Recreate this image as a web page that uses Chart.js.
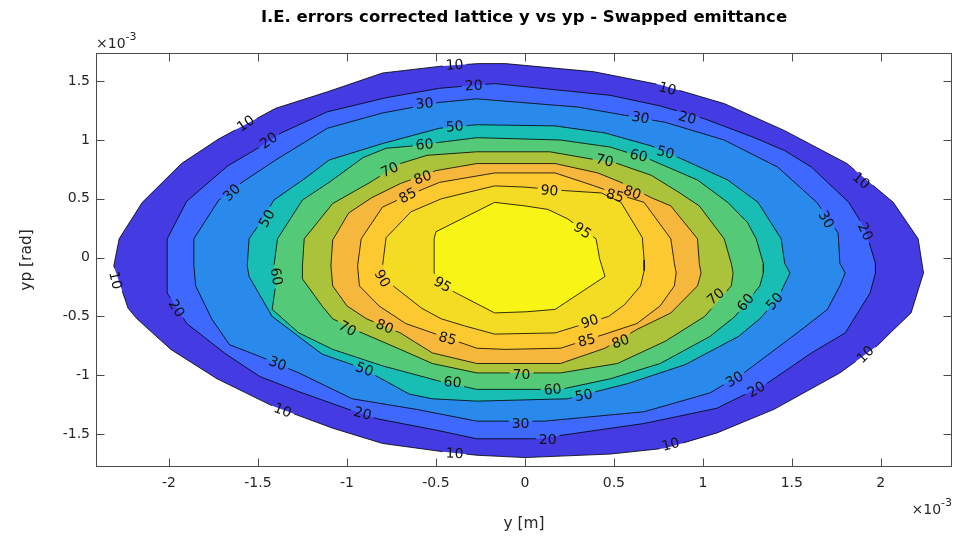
<!DOCTYPE html>
<html>
<head>
<meta charset="utf-8">
<script src="https://cdn.jsdelivr.net/npm/chart.js@4/dist/chart.umd.min.js"></script>
<style>
html,body{margin:0;padding:0;background:#fff}
canvas{display:block}
</style>
</head>
<body>
<canvas id="c" width="958" height="536"></canvas>
<script>
// Contour levels (transmission %), outermost first
const levels = [10, 20, 30, 50, 60, 70, 80, 85, 90, 95];

// Closed contour outlines, y in 1e-3 m, yp in 1e-3 rad
const c10 = [[-2.31,-0.07],[-2.28,0.16],[-2.15,0.47],[-1.93,0.80],[-1.72,1.01],[-1.40,1.27],[-1.11,1.41],[-0.80,1.57],[-0.46,1.63],[-0.26,1.65],[-0.11,1.65],[0.39,1.58],[0.76,1.47],[1.12,1.31],[1.46,1.08],[1.81,0.80],[2.07,0.47],[2.21,0.16],[2.24,-0.13],[2.17,-0.47],[2.06,-0.63],[1.98,-0.75],[1.77,-0.98],[1.40,-1.29],[1.08,-1.49],[0.79,-1.62],[0.48,-1.67],[0.00,-1.70],[-0.27,-1.68],[-0.46,-1.65],[-0.80,-1.58],[-1.08,-1.45],[-1.42,-1.26],[-1.73,-1.03],[-1.99,-0.78],[-2.18,-0.52],[-2.23,-0.43],[-2.29,-0.16]];
const c20 = [[-2.01,-0.07],[-2.01,0.16],[-1.90,0.48],[-1.67,0.78],[-1.49,0.94],[-1.37,1.06],[-1.11,1.24],[-0.78,1.36],[-0.48,1.44],[-0.17,1.48],[0.48,1.38],[0.76,1.29],[1.01,1.18],[1.29,1.02],[1.46,0.91],[1.61,0.77],[1.82,0.47],[1.91,0.25],[1.97,-0.05],[1.97,-0.13],[1.94,-0.30],[1.80,-0.64],[1.61,-0.81],[1.36,-1.07],[1.08,-1.28],[0.67,-1.41],[0.30,-1.49],[0.07,-1.54],[-0.27,-1.54],[-0.52,-1.46],[-0.83,-1.37],[-0.99,-1.29],[-1.27,-1.14],[-1.49,-1.01],[-1.68,-0.82],[-1.90,-0.56],[-2.01,-0.30]];
const c30 = [[-1.86,-0.07],[-1.86,0.16],[-1.72,0.49],[-1.59,0.64],[-1.40,0.83],[-1.11,1.10],[-0.80,1.23],[-0.48,1.32],[-0.27,1.35],[0.30,1.28],[0.79,1.15],[1.12,1.00],[1.42,0.77],[1.64,0.47],[1.76,0.21],[1.77,-0.05],[1.80,-0.13],[1.77,-0.24],[1.70,-0.44],[1.53,-0.64],[1.23,-0.98],[1.04,-1.15],[0.67,-1.31],[0.11,-1.39],[-0.27,-1.39],[-0.61,-1.29],[-0.97,-1.20],[-1.27,-0.98],[-1.49,-0.84],[-1.66,-0.74],[-1.76,-0.52],[-1.85,-0.24]];
const c50 = [[-1.56,-0.07],[-1.55,0.16],[-1.49,0.29],[-1.41,0.49],[-1.23,0.68],[-1.10,0.83],[-0.80,0.97],[-0.48,1.10],[-0.27,1.13],[0.17,1.12],[0.45,1.06],[0.71,0.95],[0.88,0.84],[1.14,0.66],[1.31,0.47],[1.44,0.16],[1.46,-0.05],[1.49,-0.13],[1.42,-0.35],[1.32,-0.52],[1.20,-0.67],[0.90,-0.91],[0.58,-1.07],[0.24,-1.20],[-0.27,-1.22],[-0.52,-1.20],[-0.65,-1.16],[-0.83,-1.01],[-0.97,-0.91],[-1.14,-0.82],[-1.42,-0.50],[-1.55,-0.16]];
const c60 = [[-1.41,-0.07],[-1.39,0.16],[-1.25,0.49],[-1.10,0.64],[-0.91,0.85],[-0.78,0.93],[-0.63,0.95],[-0.48,0.98],[-0.27,1.02],[0.20,1.00],[0.48,0.94],[0.71,0.83],[0.97,0.66],[1.14,0.47],[1.25,0.30],[1.30,0.16],[1.34,-0.05],[1.34,-0.13],[1.32,-0.24],[1.23,-0.41],[1.18,-0.50],[1.04,-0.67],[0.76,-0.90],[0.48,-1.03],[0.20,-1.12],[-0.27,-1.12],[-0.48,-1.05],[-0.80,-0.92],[-1.08,-0.78],[-1.27,-0.64],[-1.42,-0.44],[-1.40,-0.23]];
const c70 = [[-1.25,-0.07],[-1.24,0.16],[-1.08,0.46],[-0.87,0.64],[-0.70,0.80],[-0.55,0.87],[-0.27,0.90],[0.14,0.90],[0.52,0.80],[0.71,0.70],[0.86,0.56],[0.98,0.44],[1.12,0.16],[1.16,-0.05],[1.17,-0.13],[1.16,-0.24],[1.01,-0.50],[0.79,-0.71],[0.52,-0.90],[0.20,-0.98],[-0.27,-0.98],[-0.52,-0.90],[-0.70,-0.78],[-0.93,-0.63],[-1.08,-0.52],[-1.14,-0.41],[-1.25,-0.18]];
const c80 = [[-1.09,-0.07],[-1.08,0.15],[-0.99,0.38],[-0.86,0.51],[-0.70,0.63],[-0.50,0.74],[-0.27,0.80],[0.17,0.80],[0.41,0.72],[0.54,0.64],[0.71,0.51],[0.82,0.44],[0.97,0.16],[0.98,-0.05],[0.99,-0.13],[0.97,-0.24],[0.82,-0.47],[0.63,-0.61],[0.45,-0.77],[0.20,-0.90],[-0.27,-0.90],[-0.52,-0.81],[-0.70,-0.64],[-0.89,-0.52],[-1.00,-0.41],[-1.08,-0.24]];
const c85 = [[-0.94,-0.07],[-0.92,0.16],[-0.80,0.43],[-0.70,0.50],[-0.56,0.59],[-0.48,0.64],[-0.17,0.72],[0.17,0.72],[0.39,0.61],[0.54,0.53],[0.67,0.47],[0.82,0.16],[0.84,-0.05],[0.85,-0.13],[0.84,-0.24],[0.76,-0.41],[0.63,-0.56],[0.45,-0.65],[0.20,-0.77],[-0.11,-0.78],[-0.27,-0.77],[-0.50,-0.65],[-0.67,-0.56],[-0.82,-0.41],[-0.93,-0.24]];
const c90 = [[-0.80,-0.07],[-0.78,0.17],[-0.64,0.39],[-0.47,0.50],[-0.17,0.61],[0.00,0.60],[0.22,0.57],[0.43,0.55],[0.54,0.47],[0.66,0.17],[0.67,-0.02],[0.67,-0.11],[0.65,-0.24],[0.56,-0.40],[0.47,-0.50],[0.17,-0.64],[-0.17,-0.65],[-0.34,-0.58],[-0.47,-0.52],[-0.58,-0.43],[-0.74,-0.24],[-0.79,-0.15]];
const c95 = [[-0.51,0.16],[-0.50,0.22],[-0.17,0.47],[0.00,0.44],[0.13,0.41],[0.24,0.33],[0.40,0.16],[0.42,-0.01],[0.45,-0.16],[0.17,-0.44],[0.01,-0.46],[-0.17,-0.47],[-0.40,-0.29],[-0.51,-0.13]];
const contours = [c10, c20, c30, c50, c60, c70, c80, c85, c90, c95];

// Inline contour labels: level, position and text angle
const labelLevel = [10,10,10,10,10,10,10,10,10, 20,20,20,20,20,20,20,20, 30,30,30,30,30,30,30, 50,50,50,50,50,50, 60,60,60,60,60,60, 70,70,70,70,70, 80,80,80,80, 85,85,85,85, 90,90,90, 95,95];
const labelX = [-0.395,-1.569,0.801,1.890,-2.299,-1.361,-0.395,0.819,1.913, -1.440,-0.288,0.913,1.914,-1.957,-0.912,0.128,1.300, -1.648,-0.564,0.650,1.694,-1.389,-0.024,1.177, -1.451,-0.395,0.790,1.402,0.330,-0.901, -1.395,-0.564,0.639,1.239,0.156,-0.406, -0.760,0.448,1.071,-0.019,-0.996, -0.575,0.604,0.537,-0.788, -0.659,0.507,0.347,-0.434, 0.138,0.364,-0.800, 0.324,-0.462];
const labelY = [1.642,1.141,1.438,0.657,-0.193,-1.297,-1.663,-1.586,-0.822, 0.997,1.464,1.192,0.223,-0.431,-1.323,-1.544,-1.119, 0.555,1.311,1.192,0.325,-0.898,-1.408,-1.034, 0.334,1.116,0.895,-0.371,-1.170,-0.949, -0.159,0.963,0.869,-0.380,-1.119,-1.059, 0.750,0.827,-0.329,-0.992,-0.601, 0.682,0.555,-0.711,-0.584, 0.529,0.529,-0.703,-0.686, 0.572,-0.541,-0.176, 0.232,-0.227];
const labelRot = [-3,-35,15,40,78,22,2,-15,-45, -35,-3,15,65,58,15,0,-30, -45,-5,10,60,20,0,-30, -60,-5,15,-50,-10,20, 80,-5,12,-50,-5,5, -25,12,-40,0,30, -20,20,-20,22, -28,15,-12,15, 5,-18,60, 35,30];

const xTicks = [-2, -1.5, -1, -0.5, 0, 0.5, 1, 1.5, 2];
const yTicks = [-1.5, -1, -0.5, 0, 0.5, 1, 1.5];

const fillColors = ['rgb(68,60,226)','rgb(62,104,254)','rgb(42,138,236)','rgb(24,190,180)','rgb(84,202,120)','rgb(170,195,58)','rgb(245,183,60)','rgb(252,202,48)','rgb(245,220,36)','rgb(248,244,22)'];

const FONT = '"DejaVu Sans", sans-serif';
const LABEL_FONT = '14px ' + FONT;
const AXIS_COLOR = '#262626';

const toPoints = pts => pts.concat([pts[0]]).map(([x, y]) => ({x, y}));

const datasets = [];
contours.forEach((pts, i) => {
  datasets.push({
    data: toPoints(pts),
    backgroundColor: fillColors[i],
    borderColor: 'rgba(0,0,0,0)',
    borderWidth: 0,
    fill: 'shape',
    pointRadius: 0,
    order: 100 - i
  });
});
contours.forEach((pts, i) => {
  datasets.push({
    data: toPoints(pts),
    borderColor: '#000',
    borderWidth: 0.8,
    fill: false,
    pointRadius: 0,
    order: 0,
    contourLevel: levels[i]
  });
});

function labelBoxes(chart, level) {
  const {ctx, scales: {x, y}} = chart;
  ctx.save();
  ctx.font = LABEL_FONT;
  const out = [];
  labelLevel.forEach((lv, i) => {
    if (level !== undefined && lv !== level) return;
    const text = String(lv);
    out.push({
      text,
      px: x.getPixelForValue(labelX[i]),
      py: y.getPixelForValue(labelY[i]),
      a: labelRot[i] * Math.PI / 180,
      hw: ctx.measureText(text).width / 2 + 3,
      hh: 7
    });
  });
  ctx.restore();
  return out;
}

const contourDecor = {
  id: 'contourDecor',
  beforeDatasetDraw(chart, args) {
    const ds = chart.data.datasets[args.index];
    if (!ds.contourLevel) return;
    const ctx = chart.ctx, a = chart.chartArea;
    ctx.save();
    ctx.beginPath();
    ctx.rect(a.left - 2, a.top - 2, a.width + 4, a.height + 4);
    for (const b of labelBoxes(chart, ds.contourLevel)) {
      const c = Math.cos(b.a), s = Math.sin(b.a);
      [[-b.hw, -b.hh], [b.hw, -b.hh], [b.hw, b.hh], [-b.hw, b.hh]].forEach(([u, v], k) => {
        const X = b.px + u * c - v * s, Y = b.py + u * s + v * c;
        if (k) ctx.lineTo(X, Y); else ctx.moveTo(X, Y);
      });
      ctx.closePath();
    }
    ctx.clip('evenodd');
  },
  afterDatasetDraw(chart, args) {
    const ds = chart.data.datasets[args.index];
    if (ds.contourLevel) chart.ctx.restore();
  },
  afterDatasetsDraw(chart) {
    const {ctx, chartArea: a, scales: {x, y}} = chart;
    // contour labels
    ctx.save();
    ctx.font = LABEL_FONT;
    ctx.fillStyle = '#111';
    ctx.textAlign = 'center';
    ctx.textBaseline = 'middle';
    for (const b of labelBoxes(chart)) {
      ctx.save();
      ctx.translate(b.px, b.py);
      ctx.rotate(b.a);
      ctx.fillText(b.text, 0, 1);
      ctx.restore();
    }
    ctx.restore();

    // axes box with inward ticks on all sides
    ctx.save();
    ctx.strokeStyle = '#4a4a4a';
    ctx.lineWidth = 1;
    const L = Math.round(a.left) + 0.5, R = Math.round(a.right) - 0.5;
    const T = Math.round(a.top) + 0.5, B = Math.round(a.bottom) - 0.5;
    ctx.strokeRect(L, T, R - L, B - T);
    ctx.beginPath();
    xTicks.forEach(v => {
      const px = Math.round(x.getPixelForValue(v)) + 0.5;
      ctx.moveTo(px, B); ctx.lineTo(px, B - 8);
      ctx.moveTo(px, T); ctx.lineTo(px, T + 8);
    });
    yTicks.forEach(v => {
      const py = Math.round(y.getPixelForValue(v)) + 0.5;
      ctx.moveTo(L, py); ctx.lineTo(L + 8, py);
      ctx.moveTo(R, py); ctx.lineTo(R - 8, py);
    });
    ctx.stroke();
    ctx.restore();
  },
  afterDraw(chart) {
    const {ctx, chartArea: a} = chart;
    ctx.save();
    // title
    ctx.fillStyle = '#000';
    ctx.font = 'bold 16.5px ' + FONT;
    ctx.textAlign = 'center';
    ctx.textBaseline = 'middle';
    ctx.fillText('I.E. errors corrected lattice y vs yp - Swapped emittance', (a.left + a.right) / 2, 18);

    // axis titles
    ctx.fillStyle = AXIS_COLOR;
    ctx.font = '15.4px ' + FONT;
    ctx.fillText('y [m]', (a.left + a.right) / 2, 524);
    ctx.save();
    ctx.translate(27, (a.top + a.bottom) / 2);
    ctx.rotate(-Math.PI / 2);
    ctx.fillText('yp [rad]', 0, 0);
    ctx.restore();

    // exponent markers
    ctx.textAlign = 'left';
    ctx.textBaseline = 'alphabetic';
    const base = '14px ' + FONT, sup = '11px ' + FONT;
    const drawExp = (x0, yb, alignRight) => {
      ctx.font = base;
      const w1 = ctx.measureText('\u00d710').width;
      ctx.font = sup;
      const w2 = ctx.measureText('-3').width;
      const start = alignRight ? x0 - w1 - w2 : x0;
      ctx.font = base;
      ctx.fillText('\u00d710', start, yb);
      ctx.font = sup;
      ctx.fillText('-3', start + w1, yb - 8);
    };
    drawExp(a.left, 48, false);
    drawExp(a.right, 514, true);
    ctx.restore();
  }
};

new Chart(document.getElementById('c'), {
  type: 'line',
  data: {datasets},
  plugins: [contourDecor],
  options: {
    responsive: false,
    animation: false,
    devicePixelRatio: 1,
    events: [],
    layout: {padding: {top: 53, right: 6, left: 0, bottom: 0}},
    elements: {line: {tension: 0}, point: {radius: 0}},
    plugins: {legend: {display: false}, tooltip: {enabled: false}, title: {display: false}},
    scales: {
      x: {
        type: 'linear',
        min: -2.41,
        max: 2.40,
        afterBuildTicks: s => { s.ticks = xTicks.map(v => ({value: v})); },
        afterFit: s => { s.height = 69; },
        grid: {display: false, drawTicks: false},
        border: {display: false},
        ticks: {
          autoSkip: false, maxRotation: 0, padding: 8, color: AXIS_COLOR,
          font: {family: FONT, size: 14},
          callback: v => String(v)
        }
      },
      y: {
        type: 'linear',
        min: -1.78,
        max: 1.74,
        afterBuildTicks: s => { s.ticks = yTicks.map(v => ({value: v})); },
        afterFit: s => { s.width = 96; },
        grid: {display: false, drawTicks: false},
        border: {display: false},
        ticks: {
          autoSkip: false, padding: 6, color: AXIS_COLOR,
          font: {family: FONT, size: 14},
          callback: v => String(v)
        }
      }
    }
  }
});
</script>
</body>
</html>
